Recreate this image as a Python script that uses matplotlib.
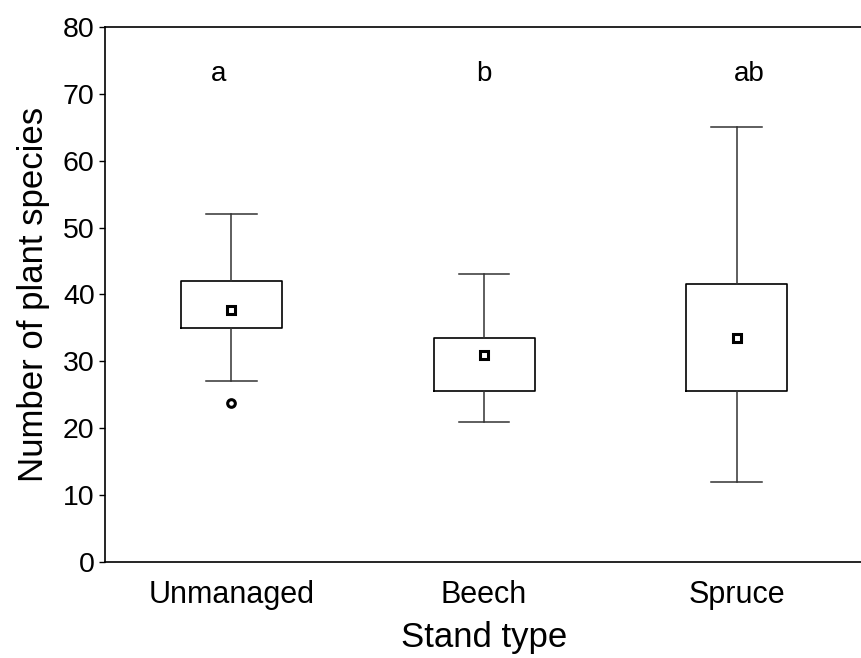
import matplotlib
matplotlib.use("Agg")
import matplotlib.pyplot as plt

plt.rcParams['font.family'] = ['Liberation Sans', 'DejaVu Sans']

# Statistica-style summary
stands = ["Unmanaged", "Beech", "Spruce"]
medians = [37.7, 31.0, 33.5]
q1 = [35.0, 25.5, 25.5]
q3 = [42.0, 33.5, 41.5]
whis_lo = [27.0, 21.0, 12.0]
whis_hi = [52.0, 43.0, 65.0]
outliers = [[23.7], [], []]
letters = ["a", "b", "ab"]
letter_y = 73
letter_shift = [-0.05, 0.0, 0.05]  # letters sit a little off the box centres

stats = []
for i in range(len(stands)):
    stats.append({
        "label": stands[i],
        "med": medians[i],
        "q1": q1[i],
        "q3": q3[i],
        "whislo": whis_lo[i],
        "whishi": whis_hi[i],
        "fliers": outliers[i],
    })

fig = plt.figure(figsize=(8.61, 6.58), dpi=100)
ax = fig.add_axes([0.122, 0.146, 0.8804, 0.813])

pos = list(range(len(stands)))
ax.bxp(stats, positions=pos, widths=0.4, capwidths=0.2,
       boxprops=dict(color="black", linewidth=1.2),
       whiskerprops=dict(color="#333333", linewidth=1.1),
       capprops=dict(color="#333333", linewidth=1.1),
       medianprops=dict(linestyle="none"),
       flierprops=dict(marker="o", markerfacecolor="white", markeredgecolor="black",
                       markersize=5.5, markeredgewidth=2.2))

# median shown as a small square
ax.plot(pos, medians, linestyle="none", marker="s", markersize=5.5,
        markerfacecolor="white", markeredgecolor="black", markeredgewidth=2.2)

for i in range(len(stands)):
    ax.text(pos[i] + letter_shift[i], letter_y, letters[i], ha="center", va="center", fontsize=20)

ax.set_xlim(-0.5, 2.5)
ax.set_ylim(0, 80)
ax.set_yticks(range(0, 81, 10))
ax.set_xticks(pos)
ax.set_xticklabels(stands)
ax.tick_params(axis="y", labelsize=20.5, length=4, width=1, direction="out")
ax.tick_params(axis="x", labelsize=22, length=0, pad=13)
ax.set_ylabel("Number of plant species", fontsize=25, labelpad=9)
ax.set_xlabel("Stand type", fontsize=25, labelpad=8)
for s in ax.spines.values():
    s.set_linewidth(1.2)

fig.savefig("out.png", dpi=100)
